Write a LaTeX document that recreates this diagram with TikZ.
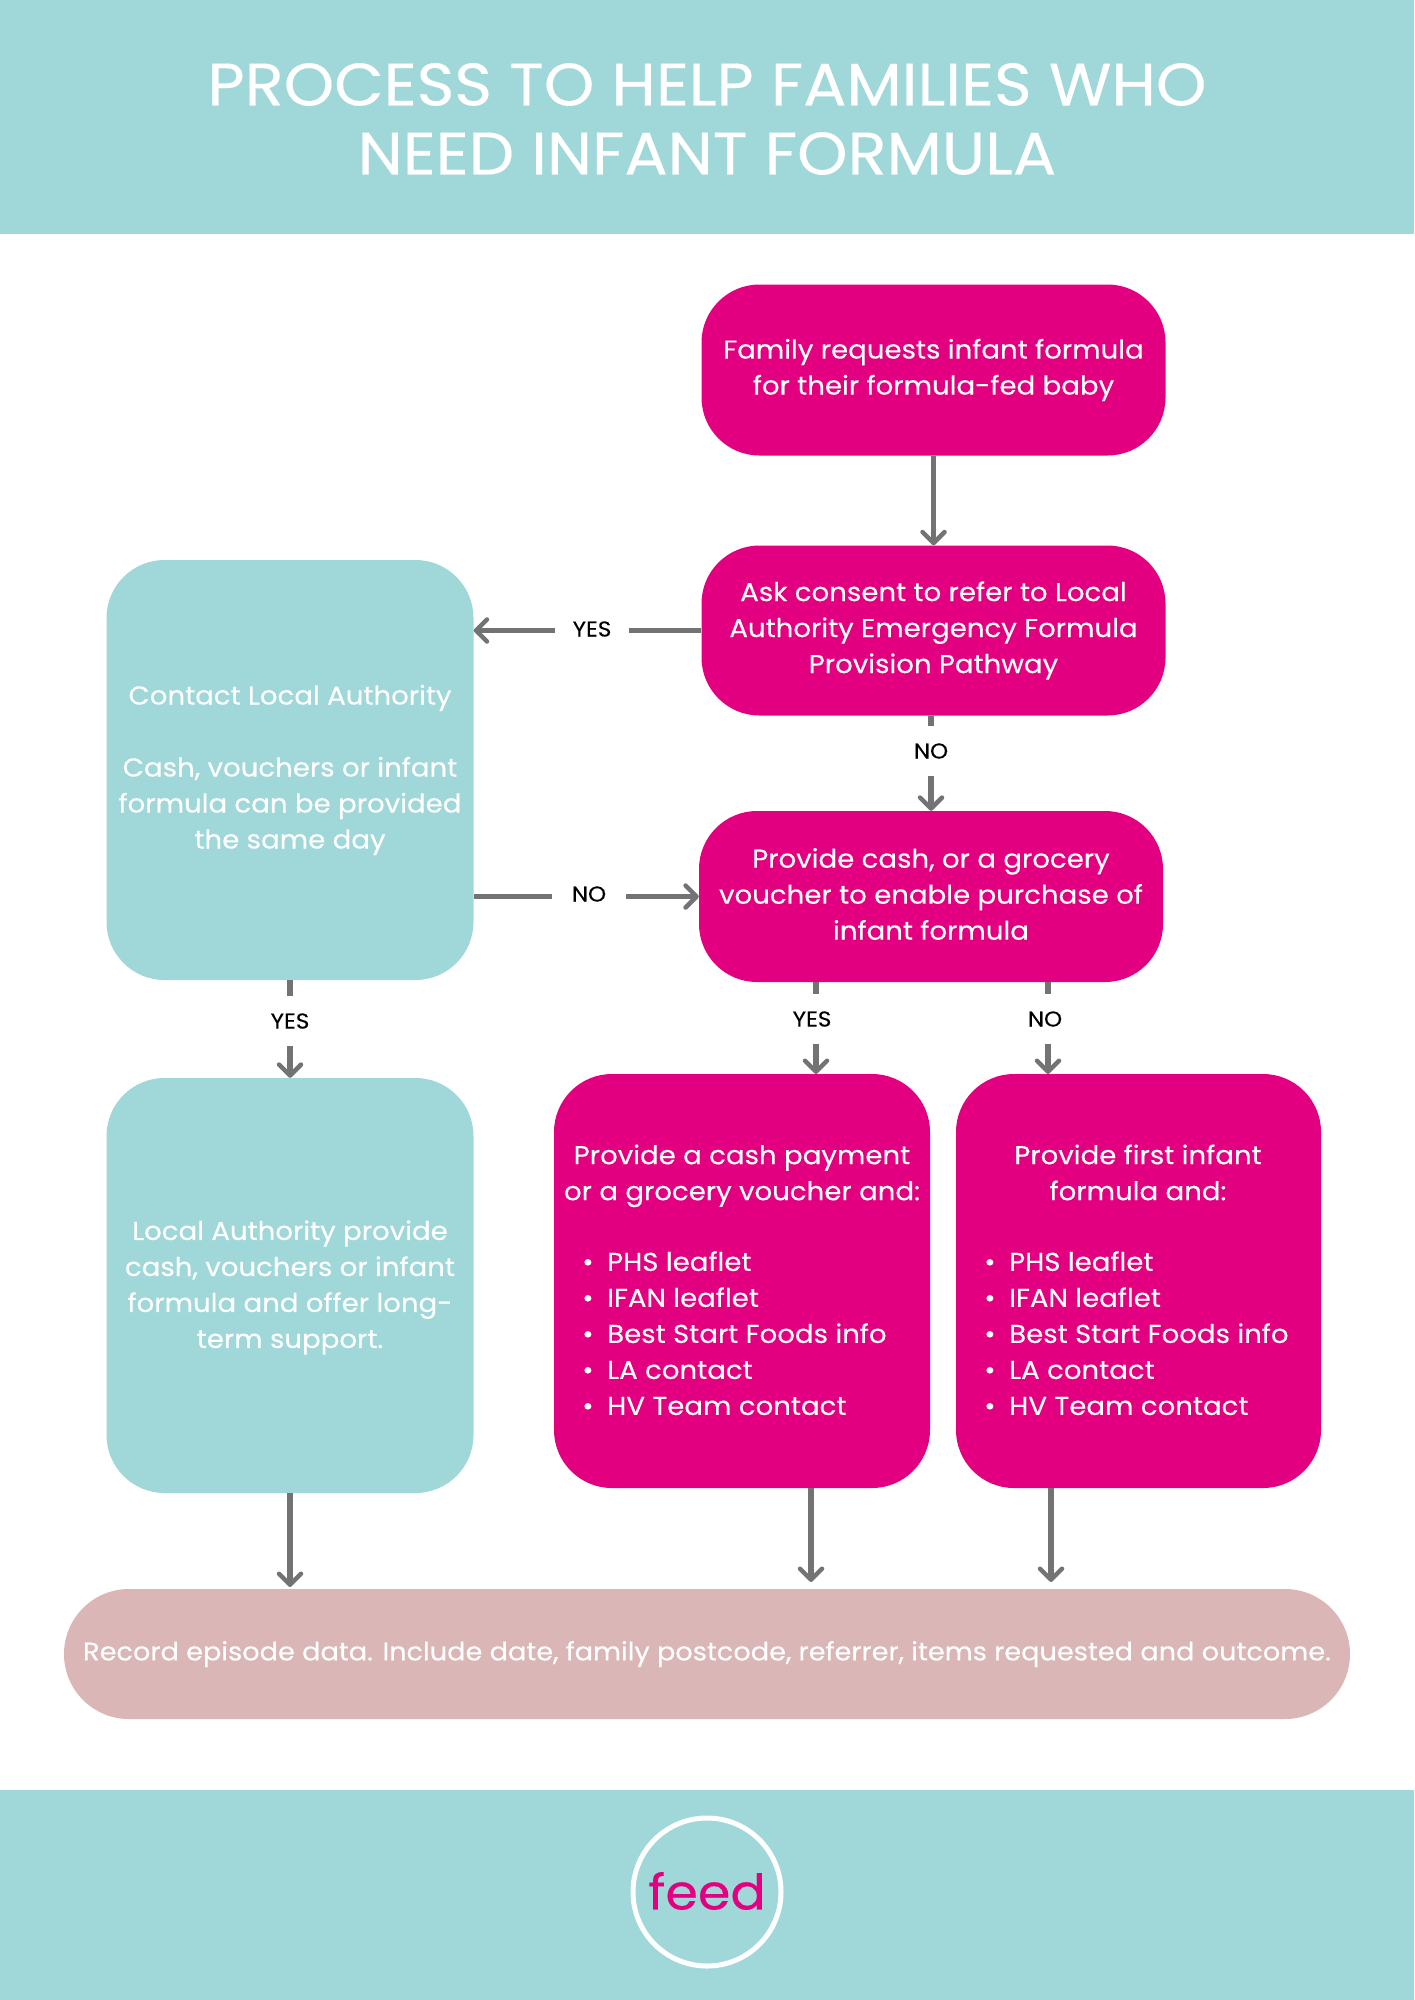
\documentclass[tikz,border=0pt]{standalone}
\usepackage{fontspec}
\setmainfont{Poppins}[FakeStretch=1.07,FakeBold=0.25]
\usetikzlibrary{arrows.meta}
\definecolor{feedteal}{HTML}{A0D8DA}
\definecolor{feedpink}{HTML}{E20080}
\definecolor{feedrose}{HTML}{DAB6B6}
\definecolor{feedgrey}{HTML}{737373}
\newcommand{\listitem}[1]{\makebox[25pt][l]{\textbullet}#1\\}
\tikzset{
  pinkbox/.style={fill=feedpink,text=white,align=center,rounded corners=58pt,inner sep=0pt,font=\fontsize{25.8}{36}\selectfont},
  tealbox/.style={pinkbox,fill=feedteal},
  boxtext/.style={text=white,inner sep=0pt,font=\fontsize{25.8}{36}\selectfont},
  edgelabel/.style={fill=white,text=black,minimum width=74pt,minimum height=50pt,inner sep=0pt,font=\fontsize{21.5}{24}\selectfont},
  flow/.style={draw=feedgrey,line width=5.5pt,-{Straight Barb[length=11pt,width=22pt,line width=4.5pt,round]}},
}
\begin{document}
\begin{tikzpicture}[x=1pt,y=-1pt]
      \useasboundingbox (0,0) rectangle (1414,2000);
      \fill[feedteal] (0,0) rectangle (1414,234);
      \fill[feedteal] (0,1790) rectangle (1414,2000);
      \node[text=white,align=center,font=\fontsize{60}{69}\selectfont] (title) at (707,119) {PROCESS TO HELP FAMILIES WHO\\NEED INFANT FORMULA};

      \node[pinkbox,minimum width=464pt,minimum height=171pt] (request) at (933.5,370) {Family requests infant formula\\for their formula-fed baby};
      \node[pinkbox,minimum width=464pt,minimum height=170pt] (consent) at (933.5,630.5) {Ask consent to refer to Local\\Authority Emergency Formula\\Provision Pathway};
      \node[pinkbox,minimum width=464pt,minimum height=171pt] (provide) at (931,896.5) {};
      \node[tealbox,minimum width=367pt,minimum height=420pt] (contact) at (290,770) {Contact Local Authority\\ \\Cash, vouchers or infant\\formula can be provided\\the same day};
      \node[tealbox,minimum width=367pt,minimum height=415pt] (authority) at (290,1285.5) {};
      \node[pinkbox,minimum width=376pt,minimum height=414pt] (cash) at (742,1281) {};
      \node[pinkbox,minimum width=365pt,minimum height=414pt] (first) at (1138.5,1281) {};
      \node[pinkbox,fill=feedrose,rounded corners=65pt,minimum width=1286pt,minimum height=130pt,font=\fontsize{25.4}{36}\selectfont] (record) at (707,1654) {Record episode data. Include date, family postcode, referrer, items requested and outcome.};

      % text set apart from its box
      \node[boxtext,align=center] (providetext) at (931,894) {Provide cash, or a grocery\\voucher to enable purchase of\\infant formula};
      \node[boxtext,align=center] (authoritytext) at (290,1287.5) {Local Authority provide\\cash, vouchers or infant\\formula and offer long-\\term support.};
      \node[boxtext,align=center] (cashhead) at (742,1175) {\strut Provide a cash payment\\\strut or a grocery voucher and:};
      \node[boxtext,align=left,anchor=north west] (cashlist) at (582,1251) {\listitem{PHS leaflet}\listitem{IFAN leaflet}\listitem{Best Start Foods info}\listitem{LA contact}\listitem{HV Team contact}};
      \node[boxtext,align=center] (firsthead) at (1138,1175) {\strut Provide first infant\\\strut formula and:};
      \node[boxtext,align=left,anchor=north west] (firstlist) at (984,1251) {\listitem{PHS leaflet}\listitem{IFAN leaflet}\listitem{Best Start Foods info}\listitem{LA contact}\listitem{HV Team contact}};

      % free ends of the connectors
      \coordinate (cashtop) at (816,1074);
      \coordinate (firsttop) at (1048,1074);
      \coordinate (cashend) at (811,1582);
      \coordinate (firstend) at (1051,1582);
      \coordinate (authend) at (290,1587);

      \draw[flow] (request) -- (consent);
      \draw[flow] (consent.west) -- (consent.west -| contact.east);
      \draw[flow] (provide.north |- consent.south) -- (provide.north);
      \draw[flow] (provide.west -| contact.east) -- (provide.west);
      \draw[flow] (contact) -- (authority);
      \draw[flow] (cashtop |- provide.south) -- (cashtop);
      \draw[flow] (firsttop |- provide.south) -- (firsttop);
      \draw[flow] (authority) -- (authend);
      \draw[flow] (cashend |- cash.south) -- (cashend);
      \draw[flow] (firstend |- first.south) -- (firstend);

      \node[edgelabel] (yesleft) at (592,629) {YES};
      \node[edgelabel] (nomid) at (931,751) {NO};
      \node[edgelabel] (noleft) at (589,894) {NO};
      \node[edgelabel] (yesdown) at (290,1021) {YES};
      \node[edgelabel] (yescash) at (812,1019) {YES};
      \node[edgelabel] (nofirst) at (1045,1019) {NO};

      \node[circle,draw=white,line width=5pt,minimum size=148pt,inner sep=0pt,text=feedpink,font=\fontsize{49}{60}\selectfont] (logo) at (707,1892) {\raisebox{2.5pt}{feed}};
    \end{tikzpicture}
\end{document}
